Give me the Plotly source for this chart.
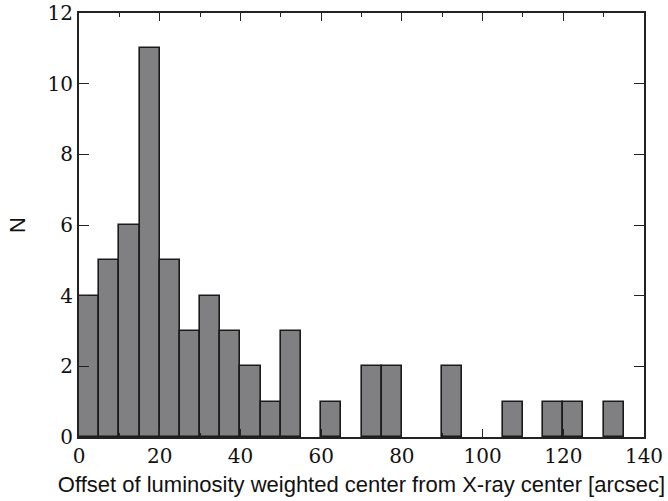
import plotly.graph_objects as go

# Histogram of offsets (bin width 5 arcsec)
bin_starts = list(range(0, 135, 5))
counts = [4, 5, 6, 11, 5, 3, 4, 3, 2, 1, 3, 0, 1, 0, 2, 2, 0, 0, 2, 0, 0, 1, 0, 1, 1, 0, 1]
bin_width = 5

x_ticks = [0, 20, 40, 60, 80, 100, 120, 140]
y_ticks = [0, 2, 4, 6, 8, 10, 12]

# empty bins get no outline so they don't thicken the bottom axis
edge_widths = [1.6 if c > 0 else 0 for c in counts]

fig = go.Figure()
fig.add_trace(go.Bar(
    x=bin_starts,
    y=counts,
    width=bin_width,
    offset=0,
    marker=dict(color="#808083", line=dict(color="#1a1a1a", width=edge_widths)),
))

serif = "DejaVu Serif"
fig.update_layout(
    width=668, height=501,
    margin=dict(l=79, r=24, t=13, b=64),
    plot_bgcolor="white", paper_bgcolor="white",
    showlegend=False,
    bargap=0,
    xaxis=dict(
        range=[0, 140], tickvals=x_ticks, ticks="inside", ticklen=8, tickwidth=1.2,
        tickcolor="#222", mirror="allticks", showline=True, linecolor="#222", linewidth=2,
        showgrid=False, zeroline=False, automargin=False,
        tickfont=dict(family=serif, size=20, color="#111"),
        minor=dict(ticks="inside", dtick=10, tick0=0, ticklen=4, tickwidth=1, tickcolor="#222", showgrid=False),
        title=dict(text="Offset of luminosity weighted center from X-ray center [arcsec]",
                   font=dict(family="Liberation Sans", size=22, color="#111"), standoff=10),
    ),
    yaxis=dict(
        range=[0, 12], tickvals=y_ticks, ticks="inside", ticklen=10, tickwidth=1.2,
        tickcolor="#222", mirror="allticks", showline=True, linecolor="#222", linewidth=2,
        showgrid=False, zeroline=False, automargin=False,
        tickfont=dict(family=serif, size=20, color="#111"),
        title=dict(text="N", font=dict(family="Liberation Sans", size=22, color="#111"), standoff=16),
    ),
)

fig.write_html("out.html")
